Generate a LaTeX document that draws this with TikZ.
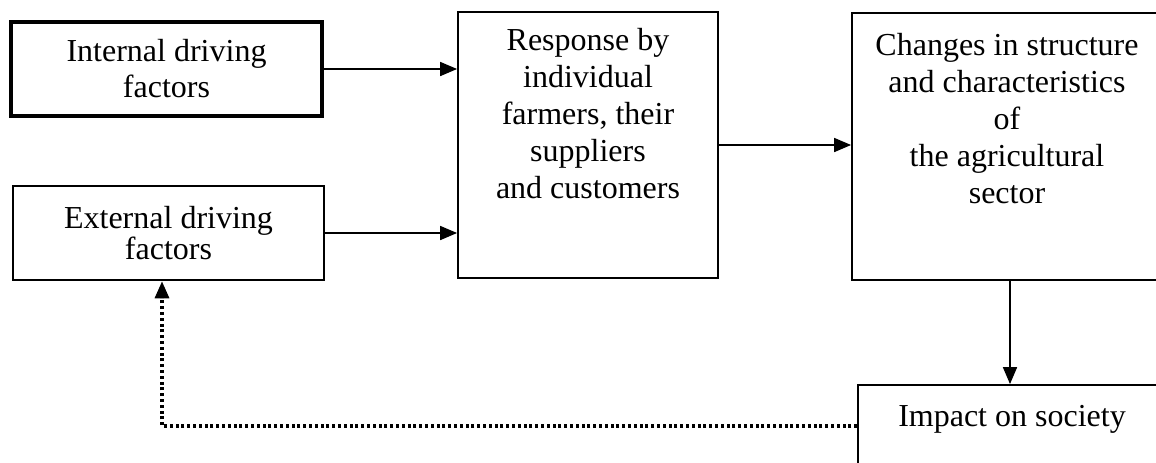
\documentclass[tikz,border=0pt]{standalone}
\usepackage{fontspec}
\setmainfont{Liberation Serif}
\usetikzlibrary{arrows.meta,positioning}
\tikzset{>={Triangle[length=8.5pt,width=7pt]}}
\tikzset{
  box/.style={draw,rectangle,line width=0.9pt,inner sep=0pt},
  txt/.style={align=center,inner sep=0pt,font=\fontsize{16}{18.5}\selectfont},
  link/.style={->,line width=0.85pt}
}

\begin{document}
\begin{tikzpicture}[x=0.5pt,y=0.5pt]
  \useasboundingbox (0,0) rectangle (1156,-462);
  \clip (0,0) rectangle (1156,-462);

  %% driving factors
  \node[box,line width=2pt,minimum width=155.5pt,minimum height=47pt,
        txt,font=\fontsize{16}{18}\selectfont] (internal) at (166.5,-69)
        {Internal driving\\factors};
  \node[box,line width=1.3pt,minimum width=155.5pt,minimum height=47pt,
        txt,font=\fontsize{16}{14.5}\selectfont] (external) at (168.5,-233)
        {External driving\\factors};

  %% response
  \node[box,minimum width=130pt,minimum height=133pt] (response) at (588,-145) {};
  \node[txt,anchor=north] (responsetxt) at ([yshift=-8.2pt]response.north)
        {Response by\\individual\\farmers, their\\suppliers\\and customers};

  %% changes (runs off the right edge)
  \node[box,minimum width=155pt,minimum height=133.5pt] (changes) at (1007,-146.5) {};
  \node[txt,anchor=north] (changestxt) at ([yshift=-10.5pt]changes.north)
        {Changes in structure\\and characteristics\\of\\the agricultural\\sector};

  %% impact (runs off the bottom)
  \node[box,minimum width=154pt,minimum height=41pt] (impact) at (1012,-426) {};
  \node[txt,anchor=north] (impacttxt) at ([yshift=-10.5pt]impact.north)
        {Impact on society};

  \draw[link] (internal.east) -- (internal.east -| response.west);
  \draw[link] (external.east) -- (external.east -| response.west);
  \draw[link] (response.east) -- (response.east -| changes.west);
  \draw[link] ([xshift=1.5pt]changes.south) -- ([xshift=1.5pt]changes.south |- impact.north);

  %% feedback
  \coordinate (bend) at (162,-426);
  \draw[->,line width=1.6pt,dash pattern=on 1.5pt off 1.4pt]
    (impact.west) -- (bend) -- (bend |- external.south);
\end{tikzpicture}
\end{document}
